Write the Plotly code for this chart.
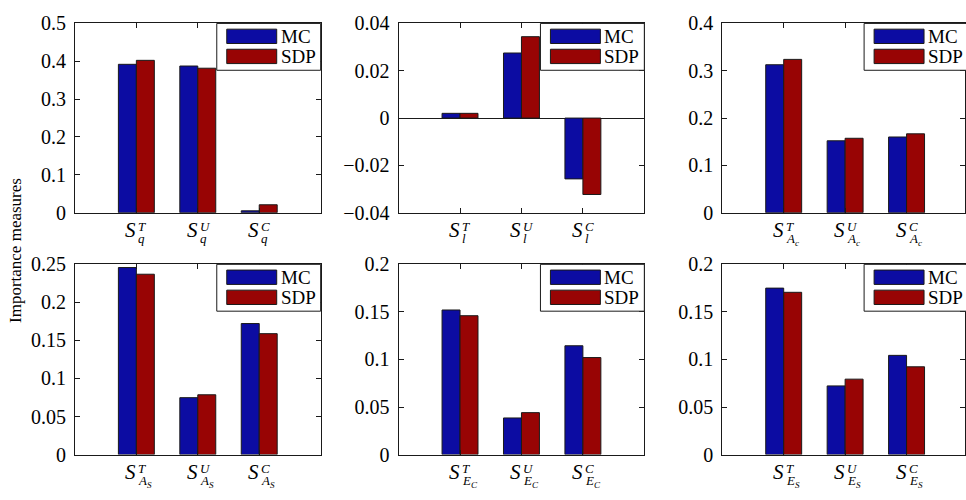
import plotly.graph_objects as go

# ---------------- data ----------------
series_names = ["MC", "SDP"]
sup_labels = ["T", "U", "C"]
sub_labels = ["<i>q</i>", "<i>l</i>",
              "<i>A</i><sub><i>c</i></sub>", "<i>A</i><sub><i>S</i></sub>",
              "<i>E</i><sub><i>C</i></sub>", "<i>E</i><sub><i>S</i></sub>"]

mc_q = [0.392, 0.3875, 0.005]
sdp_q = [0.4025, 0.3817, 0.021]
mc_l = [0.002, 0.0275, -0.0257]
sdp_l = [0.002, 0.0344, -0.0323]
mc_Ac = [0.3127, 0.152, 0.160]
sdp_Ac = [0.324, 0.1573, 0.1667]
mc_AS = [0.2458, 0.0748, 0.1722]
sdp_AS = [0.237, 0.0786, 0.1589]
mc_EC = [0.152, 0.0385, 0.1144]
sdp_EC = [0.146, 0.0441, 0.102]
mc_ES = [0.175, 0.0722, 0.1043]
sdp_ES = [0.1706, 0.0793, 0.0923]

mc_all = [mc_q, mc_l, mc_Ac, mc_AS, mc_EC, mc_ES]
sdp_all = [sdp_q, sdp_l, sdp_Ac, sdp_AS, sdp_EC, sdp_ES]

y_ranges = [[0, 0.5], [-0.04, 0.04], [0, 0.4], [0, 0.25], [0, 0.2], [0, 0.2]]
y_dticks = [0.1, 0.02, 0.1, 0.05, 0.05, 0.05]
y_title = "Importance measures"

# ---------------- layout geometry / style ----------------
W, H = 966, 500
col_px = [(75, 321), (399, 645), (723, 969)]
row_px = [(13, 211), (265, 464)]
FONT = "Liberation Serif"
series_colors = ["#0c0ca2", "#980404"]
EDGE = "#1a1a1a"

# legend box geometry relative to the panel's top-right corner (pixels)
LEG_W, LEG_H = 104, 49
SW_L, SW_R = 94, 44            # swatch left/right offsets from panel right edge
SW_ROWS = [(6, 21), (27, 42)]  # swatch top/bottom offsets from panel top
TXT_L = 42

positions = [i + 1 for i in range(len(sup_labels))]


def px_x(v):
    return v / W


def px_y(v):
    return 1 - v / H


fig = go.Figure()
layout = dict(
    width=W, height=H, margin=dict(l=0, r=0, t=0, b=0),
    paper_bgcolor="white", plot_bgcolor="white",
    barmode="group", bargap=0.415, bargroupgap=0.0,
    font=dict(family=FONT, color="black"),
    showlegend=False,
)
annotations = []
shapes = []

for k in range(6):
    r, c = divmod(k, 3)
    x0p, x1p = col_px[c]
    y0p, y1p = row_px[r]
    x1_clip = min(x1p, W)
    unit = (x1p - x0p) / 4.0
    xr = [0, (x1_clip - x0p) / unit]
    dom_x = [x0p / W, x1_clip / W]
    dom_y = [1 - y1p / H, 1 - y0p / H]
    sfx = "" if k == 0 else str(k + 1)
    xa, ya = "x" + sfx, "y" + sfx

    for vals, name, col in zip([mc_all[k], sdp_all[k]], series_names, series_colors):
        fig.add_trace(go.Bar(x=positions, y=vals, name=name, xaxis=xa, yaxis=ya,
                             marker=dict(color=col, line=dict(color=EDGE, width=1))))

    layout["xaxis" + sfx] = dict(
        domain=dom_x, anchor=ya, range=xr, tickvals=positions, showticklabels=False,
        ticks="inside", ticklen=5, tickcolor=EDGE, showline=True, linecolor=EDGE,
        linewidth=1, mirror="allticks", showgrid=False, zeroline=False, fixedrange=True)
    layout["yaxis" + sfx] = dict(
        domain=dom_y, anchor=xa, range=y_ranges[k], dtick=y_dticks[k], tick0=y_ranges[k][0],
        ticks="inside", ticklen=5, tickcolor=EDGE, showline=True, linecolor=EDGE,
        linewidth=1, mirror="allticks", showgrid=False,
        zeroline=(y_ranges[k][0] < 0), zerolinecolor=EDGE, zerolinewidth=1,
        ticklabelstandoff=4,
        tickfont=dict(family=FONT, size=20, color="black"), fixedrange=True)

    # legend (box, swatches, names)
    shapes.append(dict(type="rect", xref="paper", yref="paper",
                       x0=px_x(x1p - LEG_W), x1=px_x(x1p), y0=px_y(y0p + LEG_H), y1=px_y(y0p),
                       fillcolor="white", line=dict(color=EDGE, width=1), layer="above"))
    for (t, b), name, col in zip(SW_ROWS, series_names, series_colors):
        shapes.append(dict(type="rect", xref="paper", yref="paper",
                           x0=px_x(x1p - SW_L), x1=px_x(x1p - SW_R),
                           y0=px_y(y0p + b), y1=px_y(y0p + t),
                           fillcolor=col, line=dict(color=EDGE, width=1), layer="above"))
        annotations.append(dict(x=px_x(x1p - TXT_L), y=px_y(y0p + (t + b) / 2),
                                xref="paper", yref="paper", text=name, showarrow=False,
                                xanchor="left", yanchor="middle",
                                font=dict(family=FONT, size=19, color="black")))

    # category labels  S^{T,U,C}_{sub}
    for j, p in enumerate(positions):
        annotations.append(dict(x=p, y=dom_y[0], xref=xa, yref="paper",
                                text="<i>S</i>", showarrow=False, xanchor="right",
                                yanchor="top", xshift=2, yshift=-3,
                                font=dict(family=FONT, size=21, color="black")))
        annotations.append(dict(x=p, y=dom_y[0], xref=xa, yref="paper",
                                text="<i>" + sup_labels[j] + "</i>", showarrow=False,
                                xanchor="left", yanchor="top", xshift=0, yshift=-4,
                                font=dict(family=FONT, size=13, color="black")))
        annotations.append(dict(x=p, y=dom_y[0], xref=xa, yref="paper",
                                text=sub_labels[k], showarrow=False,
                                xanchor="left", yanchor="top", xshift=0, yshift=-16,
                                font=dict(family=FONT, size=13, color="black")))

annotations.append(dict(x=15 / W, y=0.5, xref="paper", yref="paper", text=y_title,
                        textangle=-90, showarrow=False, xanchor="center", yanchor="middle",
                        font=dict(family=FONT, size=17, color="black")))
layout["annotations"] = annotations
layout["shapes"] = shapes
fig.update_layout(**layout)
fig.write_html("out.html", config={"displayModeBar": False},
               post_script="document.body.style.margin='0';document.body.style.overflow='hidden';")
